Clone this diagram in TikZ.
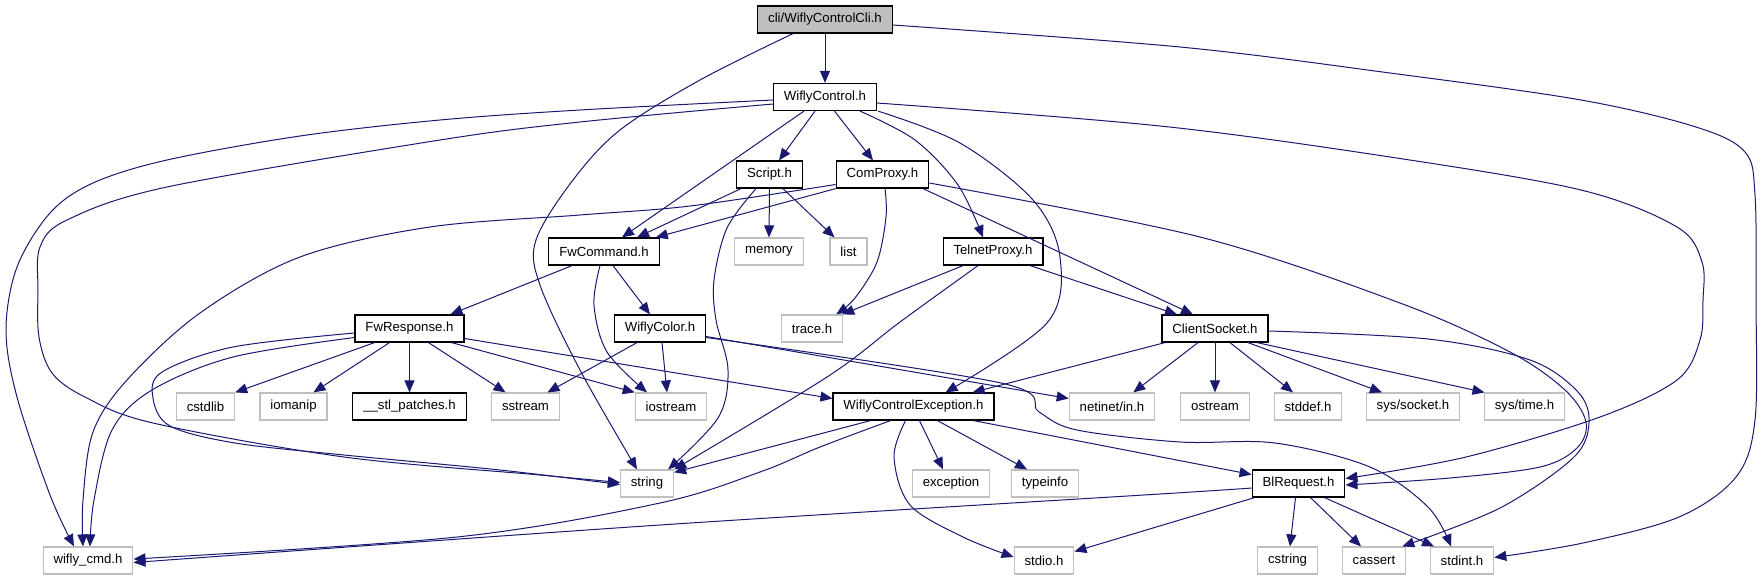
\documentclass[tikz,border=0pt]{standalone}
\usepackage{fontspec}
\setmainfont{Liberation Sans}
\usetikzlibrary{arrows.meta}
\definecolor{edgeblue}{HTML}{191970}
\definecolor{graybd}{HTML}{BFBFBF}
\begin{document}
\begin{tikzpicture}[x=1pt,y=-1pt,
  box/.style={draw=black, line width=1.2pt, minimum height=27pt, inner xsep=10.4pt, inner ysep=0pt, font=\fontsize{13.2}{15}\selectfont, text=black},
  sysbox/.style={box, draw=graybd},
  rootbox/.style={box, fill=graybd},
  e/.style={draw=edgeblue, line width=1pt, -{Triangle[length=12pt,width=10pt]}},
  sm/.style={e, smooth, tension=0.55}
]
\useasboundingbox (0,0) rectangle (1762,581);
% nodes
\node[rootbox] (root) at (825,19.5) {cli/WiflyControlCli.h};
\node[box] (wc) at (825,97) {WiflyControl.h};
\node[box] (script) at (769.5,174.5) {Script.h};
\node[box] (comproxy) at (882.5,174.5) {ComProxy.h};
\node[box] (fwcmd) at (604,251.5) {FwCommand.h};
\node[sysbox] (memory) at (769,251.5) {memory};
\node[sysbox] (list) at (848.5,251.5) {list};
\node[box] (telnet) at (993,251.5) {TelnetProxy.h};
\node[box] (fwresp) at (409.5,328.5) {FwResponse.h};
\node[box] (wcolor) at (660,328.5) {WiflyColor.h};
\node[sysbox] (trace) at (812,328.5) {trace.h};
\node[box] (csock) at (1215,328.5) {ClientSocket.h};
\node[sysbox] (cstdlib) at (205.5,406.5) {cstdlib};
\node[sysbox] (iomanip) at (293.5,406.5) {iomanip};
\node[box] (stl) at (409.5,406.5) {\_\_stl\_patches.h};
\node[sysbox] (sstream) at (525.5,406.5) {sstream};
\node[sysbox] (iostream) at (671,406.5) {iostream};
\node[box] (wce) at (913.5,406.5) {WiflyControlException.h};
\node[sysbox] (netinet) at (1112,406.5) {netinet/in.h};
\node[sysbox] (ostream) at (1215,406.5) {ostream};
\node[sysbox] (stddef) at (1308,406.5) {stddef.h};
\node[sysbox] (syssocket) at (1413,406.5) {sys/socket.h};
\node[sysbox] (systime) at (1524.5,406.5) {sys/time.h};
\node[sysbox] (string) at (647,483.5) {string};
\node[sysbox] (exception) at (951,483.5) {exception};
\node[sysbox] (typeinfo) at (1045,483.5) {typeinfo};
\node[box] (blreq) at (1298.5,483.5) {BlRequest.h};
\node[sysbox] (wiflycmd) at (88,560.5) {wifly\_cmd.h};
\node[sysbox] (stdio) at (1044,560.5) {stdio.h};
\node[sysbox] (cstring) at (1287.5,560.5) {cstring};
\node[sysbox] (cassert) at (1374,560.5) {cassert};
\node[sysbox] (stdint) at (1462,560.5) {stdint.h};

% root edges
\draw[e] (root.south) -- (wc.north);
\draw[sm] plot coordinates {([xshift=-32pt]root.south) (700,80) (620,130) (573,180) (536,240) (540,285) (580,370) ([xshift=-10pt]string.north)};
\draw[sm] plot coordinates {([yshift=-5.5pt]root.east) (1180,47) (1390,73) (1581,100) (1696,127) (1745,152) (1755,195) (1756,300) (1755,420) (1736,477) (1679,517) (1583,543) ([yshift=3pt]stdint.east)};

% WiflyControl edges
\draw[e] ([xshift=-10pt]wc.south) -- ([xshift=9.5pt]script.north);
\draw[e] ([xshift=9.5pt]wc.south) -- ([xshift=-9.5pt]comproxy.north);
\draw[e] ([xshift=-21pt]wc.south) -- ([xshift=18pt]fwcmd.north);
\draw[sm] plot coordinates {([xshift=35pt]wc.south) (915,140) (958,185) ([xshift=-10pt]telnet.north)};
\draw[sm] plot coordinates {([xshift=53pt]wc.south) (960,143) (1033,200) (1060,257) (1047,323) ([xshift=32pt]wce.north)};
\draw[sm] plot coordinates {([yshift=-6pt]wc.east) (1160,126) (1390,157) (1581,190) (1677,227) (1702,262) (1703,300) (1700,340) (1677,380) (1600,417) (1466,457) ([yshift=5pt]blreq.east)};
\draw[sm] plot coordinates {([yshift=-3pt]wc.west) (580,110) (440,120) (300,136) (167,160) (93,183) (50,213) (17,267) (6,330) (17,397) (50,495) ([xshift=-14pt]wiflycmd.north)};
\draw[sm] plot coordinates {([yshift=-7pt]wc.west) (580,122) (440,140) (167,187) (67,220) (40,247) (38,290) (39,337) (52,373) (85,397) (153,423) (344,457) (540,475) ([yshift=1pt]string.west)};

% Script edges
\draw[e] ([xshift=-28.5pt]script.south) -- ([xshift=33pt]fwcmd.north);
\draw[e] (script.south) -- (memory.north);
\draw[e] ([xshift=13.5pt]script.south) -- ([xshift=-14pt]list.north);
\draw[sm] plot coordinates {([xshift=-13.5pt]script.south) (727,228) (714,280) (716,320) (728,370) (718,418) ([xshift=-6pt]string.north east)};

% ComProxy edges
\draw[e] (comproxy.south west) -- ([xshift=-4pt]fwcmd.north east);
\draw[sm] plot coordinates {([yshift=-10pt]comproxy.west) (690,206) (580,215) (430,227) (300,257) (200,313) (127,380) (93,432) (83,500) ([xshift=-5pt]wiflycmd.north)};
\draw[sm] plot coordinates {([xshift=2.5pt]comproxy.south) (886,217) (877,262) (855,298) ([xshift=-7pt]trace.north east)};
\draw[e] ([xshift=40.5pt]comproxy.south) -- ([xshift=-22pt]csock.north);
\draw[sm] plot coordinates {([yshift=-8.5pt]comproxy.east) (1200,237) (1400,303) (1510,352) (1565,390) (1586,422) (1577,448) (1540,467) (1450,478) ([yshift=-1.5pt]blreq.east)};

% TelnetProxy edges
\draw[e] ([xshift=-30pt]telnet.south) -- ([xshift=-1pt]trace.north east);
\draw[e] ([xshift=37pt]telnet.south) -- ([xshift=-38pt]csock.north);
\draw[sm] plot coordinates {([xshift=-15pt]telnet.south) (900,322) (827,377) (string.north east)};

% ClientSocket edges
\draw[e] ([xshift=-50pt]csock.south) -- ([xshift=-22pt]wce.north east);
\draw[e] ([xshift=-17pt]csock.south) -- ([xshift=-22pt]netinet.north east);
\draw[e] (csock.south) -- (ostream.north);
\draw[e] ([xshift=15pt]csock.south) -- ([xshift=-15pt]stddef.north);
\draw[e] ([xshift=33pt]csock.south) -- ([xshift=-31pt]syssocket.north);
\draw[e] ([xshift=42pt]csock.south) -- ([xshift=-40pt]systime.north);
\draw[sm] plot coordinates {([yshift=-2.5pt]csock.east) (1428,339) (1530,360) (1578,392) (1589,423) (1573,458) (1500,508) ([xshift=-4pt]cassert.north east)};

% FwCommand edges
\draw[e] ([xshift=-32pt]fwcmd.south) -- ([xshift=-14pt]fwresp.north east);
\draw[e] ([xshift=9pt]fwcmd.south) -- ([xshift=-10pt]wcolor.north);
\draw[sm] plot coordinates {([xshift=-4pt]fwcmd.south) (594,305) (607,352) ([xshift=-24pt]iostream.north)};

% WiflyColor edges
\draw[e] ([xshift=2pt]wcolor.south) -- ([xshift=-4pt]iostream.north);
\draw[e] ([xshift=-23pt]wcolor.south) -- ([xshift=22pt]sstream.north);
\draw[e] ([yshift=-8pt]wcolor.east) -- ([yshift=8pt]netinet.west);
\draw[sm] plot coordinates {([yshift=-9pt]wcolor.east) (1001,383) (1039,412) (1077,430) (1180,442) (1275,443) (1370,467) (1428,507) ([xshift=-11pt]stdint.north)};

% FwResponse edges
\draw[e] ([xshift=-35pt]fwresp.south) -- (cstdlib.north east);
\draw[e] ([xshift=-20pt]fwresp.south) -- ([xshift=20pt]iomanip.north);
\draw[e] (fwresp.south) -- (stl.north);
\draw[e] ([xshift=19pt]fwresp.south) -- ([xshift=-20pt]sstream.north);
\draw[e] ([xshift=-13pt]fwresp.south east) -- (iostream.north west);
\draw[e] ([yshift=-10pt]fwresp.east) -- ([yshift=8pt]wce.west);
\draw[sm] plot coordinates {([yshift=-4.5pt]fwresp.west) (233,347) (162,372) (153,398) (170,426) (235,443) (344,455) (500,470) ([yshift=-1pt]string.west)};
\draw[sm] plot coordinates {([yshift=-9pt]fwresp.west) (233,357) (152,390) (112,430) (94,500) ([xshift=2pt]wiflycmd.north)};

% WiflyControlException edges
\draw[e] ([xshift=-43pt]wce.south) -- ([yshift=-3pt]string.north east);
\draw[sm] plot coordinates {([xshift=-23pt]wce.south) (820,447) (760,472) (660,503) (457,537) ([yshift=1.5pt]wiflycmd.east)};
\draw[sm] plot coordinates {([xshift=-8pt]wce.south) (894,457) (910,505) (963,537) ([yshift=3.5pt]stdio.west)};
\draw[e] ([xshift=6pt]wce.south) -- ([xshift=-8pt]exception.north);
\draw[e] ([xshift=24pt]wce.south) -- ([xshift=-18pt]typeinfo.north);
\draw[e] ([xshift=-21pt]wce.south east) -- ([yshift=9pt]blreq.west);

% BlRequest edges
\draw[sm] plot coordinates {([yshift=-4.5pt]blreq.west) (1160,494) (660,525) ([yshift=-2pt]wiflycmd.east)};
\draw[e] ([xshift=-44pt]blreq.south) -- ([yshift=9pt]stdio.east);
\draw[e] ([xshift=-3pt]blreq.south) -- ([xshift=2.5pt]cstring.north);
\draw[e] ([xshift=12pt]blreq.south) -- ([xshift=-13pt]cassert.north);
\draw[e] ([xshift=26pt]blreq.south) -- ([xshift=-28pt]stdint.north);
\end{tikzpicture}
\end{document}
